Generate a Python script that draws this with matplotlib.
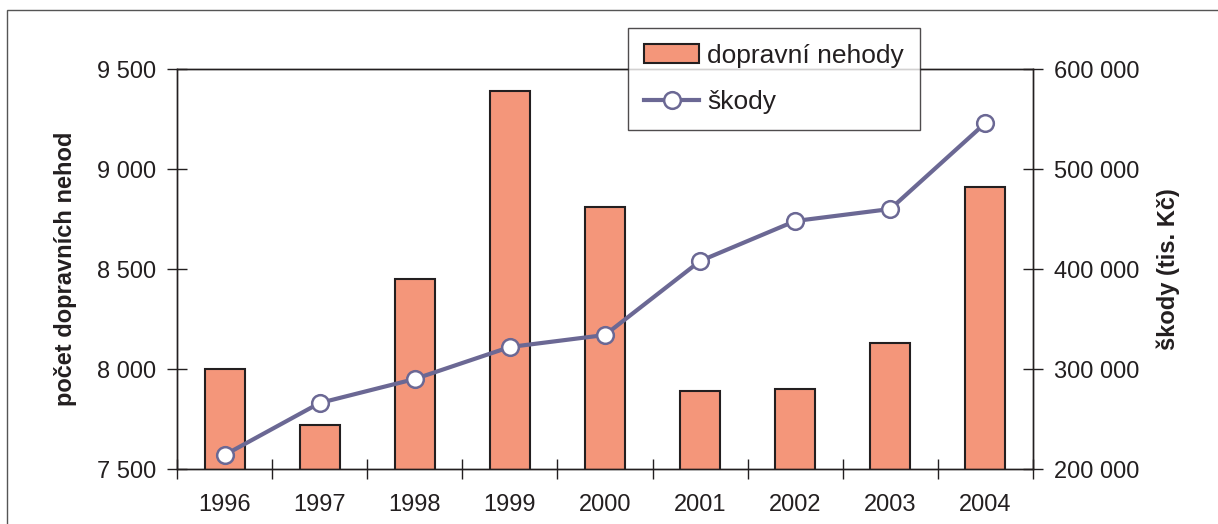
import matplotlib.pyplot as plt
import matplotlib.patches as mpatches
from matplotlib.ticker import FuncFormatter, FixedLocator
from matplotlib.lines import Line2D

plt.rcParams['font.family'] = ['Liberation Sans', 'DejaVu Sans']

years = ['1996', '1997', '1998', '1999', '2000', '2001', '2002', '2003', '2004']
nehody = [8000, 7720, 8450, 9390, 8810, 7890, 7900, 8130, 8910]
skody = [214000, 266000, 290000, 322000, 334000, 408000, 448000, 460000, 546000]

bar_color = '#F4967A'
edge_color = '#231F20'
line_color = '#6B6894'
text_color = '#231F20'


def thousands(v, pos):
    return f'{int(v):,}'.replace(',', ' ')


fig = plt.figure(figsize=(12.18, 5.24), dpi=100)
ax = fig.add_axes([177 / 1218, 1 - 469 / 524, 856 / 1218, 400 / 524])
x = list(range(len(years)))

ax.bar(x, nehody, width=0.42, bottom=0, color=bar_color, edgecolor=edge_color, linewidth=1.5, zorder=2)
ax.set_ylim(7500, 9500)
ax.set_xlim(-0.5, len(years) - 0.5)
ax.set_yticks([7500, 8000, 8500, 9000, 9500])
ax.yaxis.set_major_formatter(FuncFormatter(thousands))
ax.set_xticks(x)
ax.set_xticklabels(years)
ax.xaxis.set_minor_locator(FixedLocator([i + 0.5 for i in range(-1, len(years))]))
ax.tick_params(axis='x', which='major', length=0, pad=18, labelsize=17, colors=text_color)
ax.tick_params(axis='x', which='minor', direction='inout', length=14, width=1, color=edge_color)
ax.tick_params(axis='y', direction='inout', length=14, width=1, labelsize=17, pad=8,
               color=edge_color, labelcolor=text_color)
ax.set_ylabel('počet dopravních nehod', fontsize=17, fontweight='bold', color=text_color, labelpad=14)
for s in ax.spines.values():
    s.set_color(edge_color)
    s.set_linewidth(1)

ax2 = ax.twinx()
ax2.plot(x, skody, color=line_color, linewidth=3, marker='o', markersize=12,
         markerfacecolor='white', markeredgecolor=line_color, markeredgewidth=1.8, zorder=3)
ax2.set_ylim(200000, 600000)
ax2.set_yticks([200000, 300000, 400000, 500000, 600000])
ax2.yaxis.set_major_formatter(FuncFormatter(thousands))
ax2.tick_params(axis='y', direction='inout', length=14, width=1, labelsize=17, pad=8,
                color=edge_color, labelcolor=text_color)
ax2.set_ylabel('škody (tis. Kč)', fontsize=17, fontweight='bold', color=text_color, labelpad=12)
for s in ax2.spines.values():
    s.set_color(edge_color)
    s.set_linewidth(1)

handles = [
    mpatches.Patch(facecolor=bar_color, edgecolor=edge_color, linewidth=1.5, label='dopravní nehody'),
    Line2D([], [], color=line_color, linewidth=3, marker='o', markersize=12,
           markerfacecolor='white', markeredgecolor=line_color, markeredgewidth=1.8, label='škody'),
]
leg = fig.legend(handles=handles, loc='upper left', bbox_to_anchor=(628 / 1218, 1 - 28 / 524),
                 borderaxespad=0, fontsize=19, frameon=True, fancybox=False, edgecolor=edge_color,
                 handlelength=2.1, handleheight=0.75, handletextpad=0.3, labelspacing=0.85,
                 borderpad=0.6)
leg.get_frame().set_linewidth(1)
for t in leg.get_texts():
    t.set_color(text_color)

# outer frame around the whole picture
fig.patches.append(mpatches.Rectangle((7 / 1218, -0.1), 1.2, 1 - 10 / 524 + 0.1,
                                      transform=fig.transFigure, fill=False,
                                      edgecolor='#555555', linewidth=1))

fig.savefig('out.png', dpi=100)
